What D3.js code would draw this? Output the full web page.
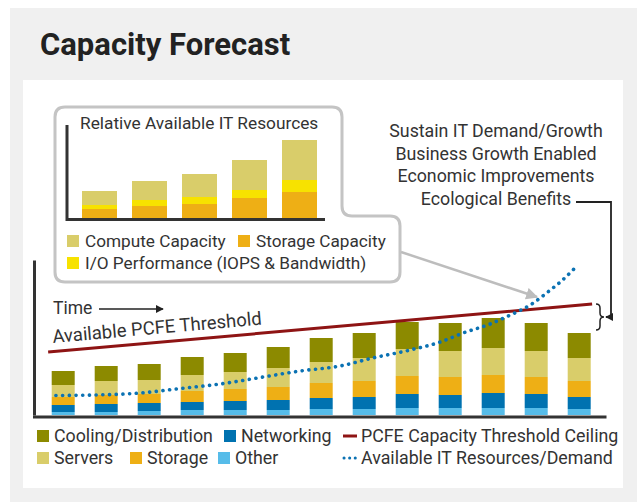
<!DOCTYPE html>
<html>
<head>
<meta charset="utf-8">
<script src="https://cdn.jsdelivr.net/npm/d3@7"></script>
<style>
  body { margin: 0; background: #fff; }
  svg { display: block; font-family: Roboto, "Open Sans", sans-serif; }
</style>
</head>
<body>
<script>
// main forecast: 13 periods, stacked PCFE footprint
var periods = [1, 2, 3, 4, 5, 6, 7, 8, 9, 10, 11, 12, 13];
var other = [3, 3, 4, 5, 5, 5, 6, 6, 7, 7, 7, 7, 6];
var networking = [7, 8, 8, 8, 9, 10, 11, 12, 14, 13, 15, 14, 12];
var storage = [8, 9, 9, 11, 12, 13, 15, 16, 18, 18, 18, 17, 16];
var servers = [12, 14, 14, 16, 17, 19, 21, 23, 27, 26, 27, 26, 23];
var cooling = [14, 15, 16, 18, 19, 21, 24, 25, 27, 28, 30, 28, 25];

// threshold ceiling (period position, value)
var thresholdT = [-0.35, 12.3];
var thresholdV = [63, 111];

// available IT resources / demand curve
var demandT = [-0.17, 0.74, 1.79, 2.72, 3.65, 4.65, 5.51, 6.44, 7.2, 8.07, 8.77, 9.3, 9.93, 10.4, 10.86, 11.33, 11.56, 11.9];
var demandV = [19.5, 20, 22, 26.5, 31, 38, 44, 49, 57, 65, 73, 82, 91, 100, 110, 125, 133, 147];

// inset: relative available IT resources
var insetCats = ["A", "B", "C", "D", "E"];
var insetStorage = [9, 12, 14, 20, 26];
var insetIO = [4, 6, 7, 8, 12];
var insetCompute = [14, 19, 23, 30, 40];

var benefits = ["Sustain IT Demand/Growth", "Business Growth Enabled", "Economic Improvements", "Ecological Benefits"];

var colors = {
  cooling: "#8c8a00",
  servers: "#d9cd6a",
  storage: "#eeaf15",
  networking: "#0072b0",
  other: "#56bce9",
  io: "#f7e200",
  threshold: "#8e1414",
  demand: "#0b72b3"
};
var textColor = "#333";

var svg = d3.select("body").append("svg").attr("width", 637).attr("height", 502);

var defs = svg.append("defs");
function marker(id, color, size) {
  defs.append("marker")
    .attr("id", id)
    .attr("viewBox", "0 0 10 10")
    .attr("refX", 9).attr("refY", 5)
    .attr("markerUnits", "userSpaceOnUse")
    .attr("markerWidth", size).attr("markerHeight", size)
    .attr("orient", "auto")
    .append("path")
    .attr("d", "M0,0 L10,5 L0,10 Z")
    .attr("fill", color);
}
marker("arrBlack", "#222", 8);
marker("arrGray", "#bdbdbd", 12);

// backgrounds
svg.append("rect").attr("x", 10).attr("y", 8).attr("width", 627).attr("height", 494).attr("fill", "#f0f0f0");
svg.append("rect").attr("x", 23).attr("y", 80).attr("width", 600).attr("height", 408).attr("fill", "#fff");

svg.append("text")
  .attr("x", 40).attr("y", 55)
  .attr("font-size", 31).attr("font-weight", 700)
  .attr("fill", "#222")
  .text("Capacity Forecast");

// ---------- main chart ----------
var x = d3.scaleBand().domain(periods).range([41.7, 600.7]).paddingInner(0.465).paddingOuter(0.2325);
var xt = d3.scaleLinear().domain([0, 12])
  .range([x(periods[0]) + x.bandwidth() / 2, x(periods[12]) + x.bandwidth() / 2]);
var y = d3.scaleLinear().domain([0, 155]).range([415, 260]);

var table = periods.map(function (p, i) {
  return { period: p, other: other[i], networking: networking[i], storage: storage[i], servers: servers[i], cooling: cooling[i] };
});
var keys = ["other", "networking", "storage", "servers", "cooling"];
var series = d3.stack().keys(keys)(table);

svg.append("g").selectAll("g")
  .data(series)
  .enter()
  .append("g")
  .attr("fill", function (s) { return colors[s.key]; })
  .selectAll("rect")
  .data(function (s) { return s; })
  .enter()
  .append("rect")
  .attr("x", function (d) { return x(d.data.period); })
  .attr("width", x.bandwidth())
  .attr("y", function (d) { return y(d[1]); })
  .attr("height", function (d) { return y(d[0]) - y(d[1]); });

// axes (no ticks, just the frame)
svg.append("g").attr("transform", "translate(34,0)")
  .call(d3.axisLeft(y).tickValues([]).tickSizeOuter(0));
svg.append("g").attr("transform", "translate(0,416.5)")
  .call(d3.axisBottom(d3.scaleLinear().range([32.5, 606])).tickValues([]).tickSizeOuter(0));
svg.selectAll(".domain").attr("stroke", "#333").attr("stroke-width", 3);

// threshold ceiling
var thresholdPts = thresholdT.map(function (t, i) { return { t: t, v: thresholdV[i] }; });
var line = d3.line().x(function (d) { return xt(d.t); }).y(function (d) { return y(d.v); });
svg.append("path")
  .attr("d", line(thresholdPts))
  .attr("fill", "none")
  .attr("stroke", colors.threshold)
  .attr("stroke-width", 3);

// demand curve
var demandPts = demandT.map(function (t, i) { return { t: t, v: demandV[i] }; });
svg.append("path")
  .attr("d", line.curve(d3.curveMonotoneX)(demandPts))
  .attr("fill", "none")
  .attr("stroke", colors.demand)
  .attr("stroke-width", 3.6)
  .attr("stroke-linecap", "round")
  .attr("stroke-dasharray", "0.1 6.6");

// labels on the chart
svg.append("text").attr("x", 53).attr("y", 314).attr("font-size", 17.5).attr("fill", textColor).text("Time");
svg.append("line").attr("x1", 99).attr("x2", 163).attr("y1", 309).attr("y2", 309)
  .attr("stroke", "#222").attr("stroke-width", 1.6).attr("marker-end", "url(#arrBlack)");

var angle = Math.atan2(y(thresholdV[1]) - y(thresholdV[0]), xt(thresholdT[1]) - xt(thresholdT[0])) * 180 / Math.PI;
svg.append("text")
  .attr("transform", "translate(53,343) rotate(" + angle + ")")
  .attr("font-size", 18.5).attr("fill", textColor)
  .text("Available PCFE Threshold");

// ---------- inset ----------
svg.append("path")
  .attr("d", "M65,107 H332 Q342,107 342,117 V206 Q342,216 352,216 H390 Q400,216 400,226 V272 Q400,282 390,282 H65 Q55,282 55,272 V117 Q55,107 65,107 Z")
  .attr("fill", "#fff")
  .attr("stroke", "#c4c4c4")
  .attr("stroke-width", 3);

svg.append("line").attr("x1", 401).attr("y1", 252).attr("x2", 537).attr("y2", 297)
  .attr("stroke", "#bdbdbd").attr("stroke-width", 2.5).attr("marker-end", "url(#arrGray)");

svg.append("text").attr("x", 80).attr("y", 129).attr("font-size", 17.3).attr("fill", textColor)
  .text("Relative Available IT Resources");

var ix = d3.scaleBand().domain(insetCats).range([67, 332]).paddingInner(0.3).paddingOuter(0.3);
var iy = d3.scaleLinear().domain([0, 94]).range([218, 124]);
var insetTable = insetCats.map(function (c, i) {
  return { cat: c, storage: insetStorage[i], io: insetIO[i], compute: insetCompute[i] };
});
var insetSeries = d3.stack().keys(["storage", "io", "compute"])(insetTable);
var insetColors = { storage: colors.storage, io: colors.io, compute: colors.servers };

svg.append("g").selectAll("g")
  .data(insetSeries)
  .enter()
  .append("g")
  .attr("fill", function (s) { return insetColors[s.key]; })
  .selectAll("rect")
  .data(function (s) { return s; })
  .enter()
  .append("rect")
  .attr("x", function (d) { return ix(d.data.cat); })
  .attr("width", ix.bandwidth())
  .attr("y", function (d) { return iy(d[1]); })
  .attr("height", function (d) { return iy(d[0]) - iy(d[1]); });

svg.append("path")
  .attr("d", "M67,125 V219.5 H325")
  .attr("fill", "none").attr("stroke", "#333").attr("stroke-width", 3);

var insetLegend = [
  { label: "Compute Capacity", color: colors.servers, x: 67, y: 247 },
  { label: "Storage Capacity", color: colors.storage, x: 238, y: 247 },
  { label: "I/O Performance (IOPS & Bandwidth)", color: colors.io, x: 67, y: 269 }
];
var il = svg.append("g").selectAll("g").data(insetLegend).enter().append("g");
il.append("rect")
  .attr("x", function (d) { return d.x; }).attr("y", function (d) { return d.y - 12; })
  .attr("width", 12).attr("height", 12)
  .attr("fill", function (d) { return d.color; });
il.append("text")
  .attr("x", function (d) { return d.x + 18; }).attr("y", function (d) { return d.y; })
  .attr("font-size", 17.2).attr("fill", textColor)
  .text(function (d) { return d.label; });

// ---------- benefits block ----------
svg.append("g").selectAll("text")
  .data(benefits)
  .enter()
  .append("text")
  .attr("x", 496)
  .attr("y", function (d, i) { return 137 + i * 22.7; })
  .attr("text-anchor", "middle")
  .attr("font-size", 17.8)
  .attr("fill", textColor)
  .text(function (d) { return d; });

svg.append("path")
  .attr("d", "M576,202 H611 V317 H606")
  .attr("fill", "none").attr("stroke", "#222").attr("stroke-width", 1.8)
  .attr("marker-end", "url(#arrBlack)");

// brace
svg.append("path")
  .attr("d", "M596,304 Q600,304 600,308 V313 Q600,317 604,317 Q600,317 600,321 V326 Q600,330 596,330")
  .attr("fill", "none").attr("stroke", "#222").attr("stroke-width", 1.5);

// ---------- legend ----------
var legendItems = [
  { label: "Cooling/Distribution", type: "box", color: colors.cooling, x: 37, y: 442 },
  { label: "Networking", type: "box", color: colors.networking, x: 224, y: 442 },
  { label: "PCFE Capacity Threshold Ceiling", type: "line", color: colors.threshold, x: 343, y: 442 },
  { label: "Servers", type: "box", color: colors.servers, x: 37, y: 464 },
  { label: "Storage", type: "box", color: colors.storage, x: 130, y: 464 },
  { label: "Other", type: "box", color: colors.other, x: 218, y: 464 },
  { label: "Available IT Resources/Demand", type: "dots", color: colors.demand, x: 343, y: 464 }
];
var lg = svg.append("g").selectAll("g").data(legendItems).enter().append("g");
lg.filter(function (d) { return d.type === "box"; })
  .append("rect")
  .attr("x", function (d) { return d.x; }).attr("y", function (d) { return d.y - 12; })
  .attr("width", 12).attr("height", 12)
  .attr("fill", function (d) { return d.color; });
lg.filter(function (d) { return d.type === "line"; })
  .append("line")
  .attr("x1", function (d) { return d.x; }).attr("x2", function (d) { return d.x + 14; })
  .attr("y1", function (d) { return d.y - 6; }).attr("y2", function (d) { return d.y - 6; })
  .attr("stroke", function (d) { return d.color; }).attr("stroke-width", 3);
lg.filter(function (d) { return d.type === "dots"; })
  .append("line")
  .attr("x1", function (d) { return d.x + 1; }).attr("x2", function (d) { return d.x + 15; })
  .attr("y1", function (d) { return d.y - 6; }).attr("y2", function (d) { return d.y - 6; })
  .attr("stroke", function (d) { return d.color; }).attr("stroke-width", 3)
  .attr("stroke-linecap", "round").attr("stroke-dasharray", "0.1 5.5");
lg.append("text")
  .attr("x", function (d) { return d.type === "box" ? d.x + 17 : d.x + 18; })
  .attr("y", function (d) { return d.y; })
  .attr("font-size", 17.8).attr("fill", textColor)
  .text(function (d) { return d.label; });
</script>
</body>
</html>
